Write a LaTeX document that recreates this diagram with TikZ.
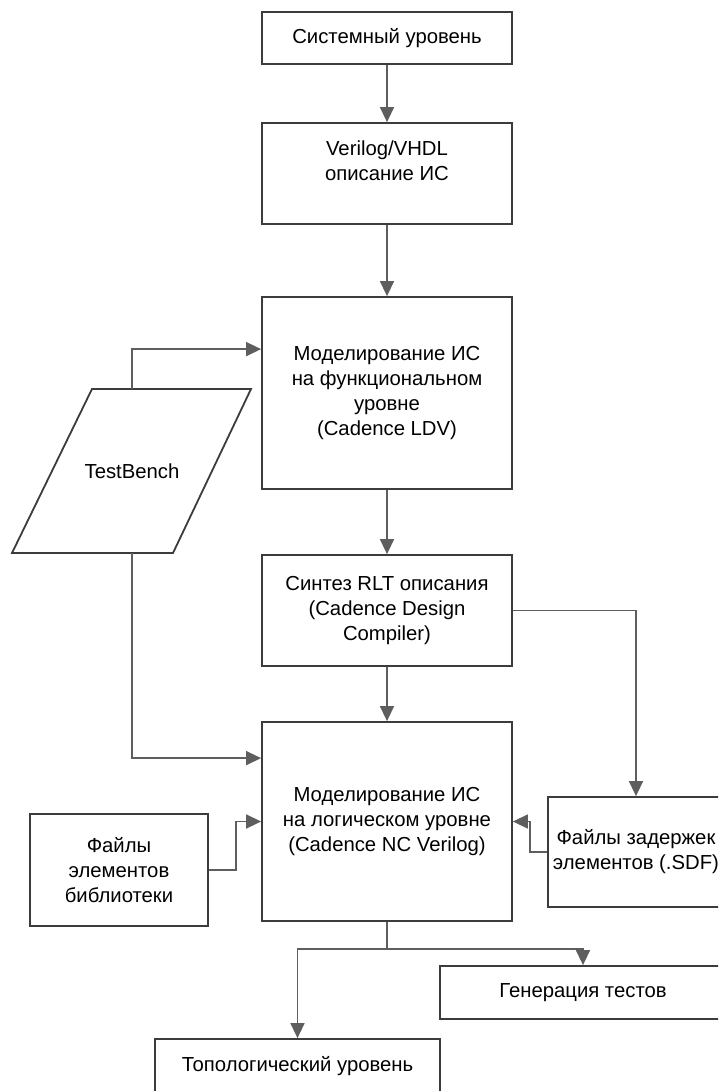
\documentclass[tikz,border=0pt]{standalone}
\usepackage{fontspec}
\setmainfont{Liberation Sans}
\usetikzlibrary{arrows.meta,calc}
\definecolor{boxc}{HTML}{3C3C3C}
\definecolor{linec}{HTML}{5E5E5E}
\begin{document}
\begin{tikzpicture}[x=1pt,y=-1pt,
  box/.style={draw=boxc,line width=1.8pt,fill=white,align=center,inner sep=0pt,text=black,
    font=\fontsize{20.3}{25}\selectfont},
  conn/.style={draw=linec,line width=1.5pt,-{Triangle[length=15pt,width=14pt]}},
  plain/.style={draw=linec,line width=1.5pt},
  lbl/.style={text=black,font=\fontsize{20.3}{25}\selectfont,inner sep=0pt}
]
\clip (0,0) rectangle (718,1091);
\fill[white] (0,0) rectangle (718,1091);

% boxes
\node[box,minimum width=250pt,minimum height=52pt] (sys) at (387,38) {Системный уровень};
\node[box,minimum width=250pt,minimum height=101pt] (hdl) at (387,173.5) {Verilog/VHDL\\описание ИС\\\mbox{}};
\node[box,minimum width=250pt,minimum height=192pt] (func) at (387,393) {Моделирование ИС\\на функциональном\\уровне\\(Cadence LDV)};
\node[box,minimum width=250pt,minimum height=111pt] (synth) at (387,610.5) {Синтез RLT описания\\(Cadence Design\\Compiler)};
\node[box,minimum width=250pt,minimum height=199pt] (logic) at (387,821.5) {Моделирование ИС\\на логическом уровне\\(Cadence NC Verilog)};
\node[box,minimum width=178pt,minimum height=112pt] (lib) at (119,870) {Файлы\\элементов\\библиотеки};
\node[box,minimum width=176pt,minimum height=110pt] (sdf) at (636,852) {Файлы задержек\\элементов (.SDF)};
\node[box,minimum width=286pt,minimum height=53pt] (gen) at (583,992.5) {Генерация тестов};
\node[box,minimum width=285pt,minimum height=54pt] (topo) at (297.5,1066) {Топологический уровень};

% TestBench parallelogram
\coordinate (tbBL) at (12,553);
\coordinate (tbBR) at (173,553);
\coordinate (tbTR) at (251,389);
\coordinate (tbTL) at (92,389);
\draw[boxc,line width=1.8pt,fill=white,line join=miter] (tbBL) -- (tbBR) -- (tbTR) -- (tbTL) -- cycle;
\node[lbl] (tb) at (132,471) {TestBench};
\coordinate (tbTop) at (132,389);
\coordinate (tbBot) at (132,553);

% connectors
\draw[conn] (sys.south) -- (hdl.north);
\draw[conn] (hdl.south) -- (func.north);
\draw[conn] (func.south) -- (synth.north);
\draw[conn] (synth.south) -- (logic.north);
\draw[conn] (tbTop) |- ([yshift=-53pt]func.north west);
\draw[conn] (tbBot) |- ([yshift=-37pt]logic.north west);
\draw[conn] (synth.east) -| (sdf.north);
\draw[conn] (sdf.west) -- ++(-17,0) |- (logic.east);
\draw[conn] (lib.east) -- ++(27,0) |- (logic.west);
\draw[plain] (logic.south) -- ++(0,27) coordinate (split);
\draw[conn] (split) -| (topo.north);
\draw[conn] (split) -| (gen.north);
\end{tikzpicture}
\end{document}
